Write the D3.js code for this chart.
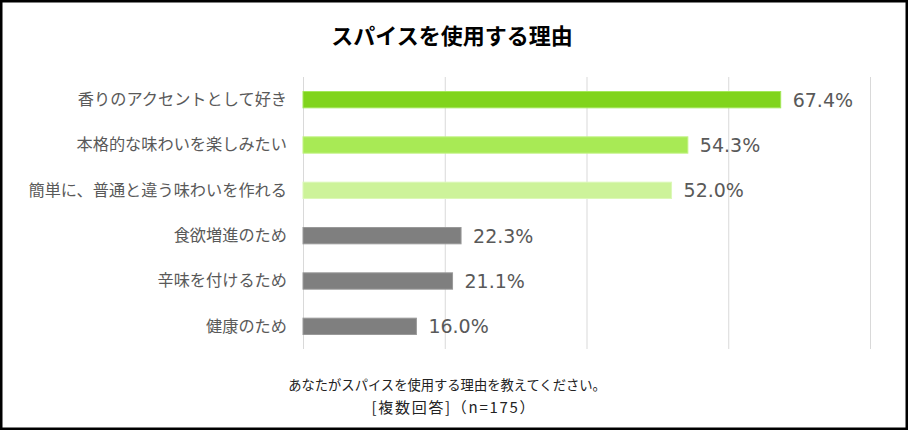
<!DOCTYPE html>
<html><head><meta charset="utf-8">
<script src="https://cdn.jsdelivr.net/npm/d3@7"></script>
<style>html,body{margin:0;padding:0;background:#fff;}svg{display:block;}</style>
</head><body>
<svg id="c" width="908" height="433"></svg>
<script>
const categories = ["香りのアクセントとして好き","本格的な味わいを楽しみたい","簡単に、普通と違う味わいを作れる","食欲増進のため","辛味を付けるため","健康のため"];
const values = [67.4, 54.3, 52.0, 22.3, 21.1, 16.0];
const barColors = ["#80d41c","#a8ea55","#cdf39a","#7f7f7f","#7f7f7f","#7f7f7f"];
const barStrokes = ["#a3e85a","#c2f283","#dcf8b8","#999999","#999999","#999999"];
const xTicks = [0, 20, 40, 60, 80];
const title = "スパイスを使用する理由";
const footer = ["あなたがスパイスを使用する理由を教えてください。","[複数回答]（n=175）"];

const svg = d3.select("#c");
const W = 908, H = 433;
svg.append("rect").attr("x",1.25).attr("y",1.25).attr("width",W-2.5).attr("height",H-5.5)
  .attr("fill","#fff").attr("stroke","#000").attr("stroke-width",2.5);

const x = d3.scaleLinear().domain([0,80]).range([303,870]);
const y = d3.scaleBand().domain(categories).range([77,349]).paddingInner(0.64).paddingOuter(0.32);

const jp = "'Noto Sans CJK JP', 'Noto Sans', sans-serif";

svg.append("text").attr("x",452).attr("y",44).attr("text-anchor","middle")
  .attr("font-family",jp).attr("font-weight","bold").attr("font-size",22).attr("fill","#000").text(title);

// gridlines
const grid = svg.append("g").attr("transform","translate(0,349)")
  .call(d3.axisBottom(x).tickValues(xTicks).tickSize(-272).tickFormat(""));
grid.select(".domain").remove();
grid.selectAll(".tick line").attr("stroke","#d9d9d9").attr("stroke-width",1);

// category axis
const ya = svg.append("g").attr("transform","translate(287,0)")
  .call(d3.axisLeft(y).tickSize(0).tickPadding(0));
ya.select(".domain").remove();
ya.selectAll("text").attr("font-family",jp).attr("font-size",16.2).attr("fill","#595959");

// bars
svg.selectAll("rect.bar").data(values).join("rect").attr("class","bar")
  .attr("x",x(0)).attr("y",(d,i)=>y(categories[i]))
  .attr("width",d=>x(d)-x(0)).attr("height",y.bandwidth())
  .attr("fill",(d,i)=>barColors[i]).attr("stroke",(d,i)=>barStrokes[i]).attr("stroke-width",1);

// value labels
svg.selectAll("text.val").data(values).join("text").attr("class","val")
  .attr("x",d=>x(d)+12).attr("y",(d,i)=>y(categories[i])+y.bandwidth()/2)
  .attr("dy","0.36em").attr("font-family","'DejaVu Sans', sans-serif").attr("font-size",19)
  .attr("fill","#595959").text(d=>d.toFixed(1)+"%");

// footer
svg.append("text").attr("x",447).attr("y",390).attr("text-anchor","middle")
  .attr("font-family",jp).attr("font-size",13.3).attr("fill","#222").text(footer[0]);
svg.append("text").attr("x",453).attr("y",413).attr("text-anchor","middle")
  .attr("font-family",jp).attr("font-size",15).attr("fill","#222")
  .attr("textLength",163).attr("lengthAdjust","spacing").text(footer[1]);
</script>
</body></html>
